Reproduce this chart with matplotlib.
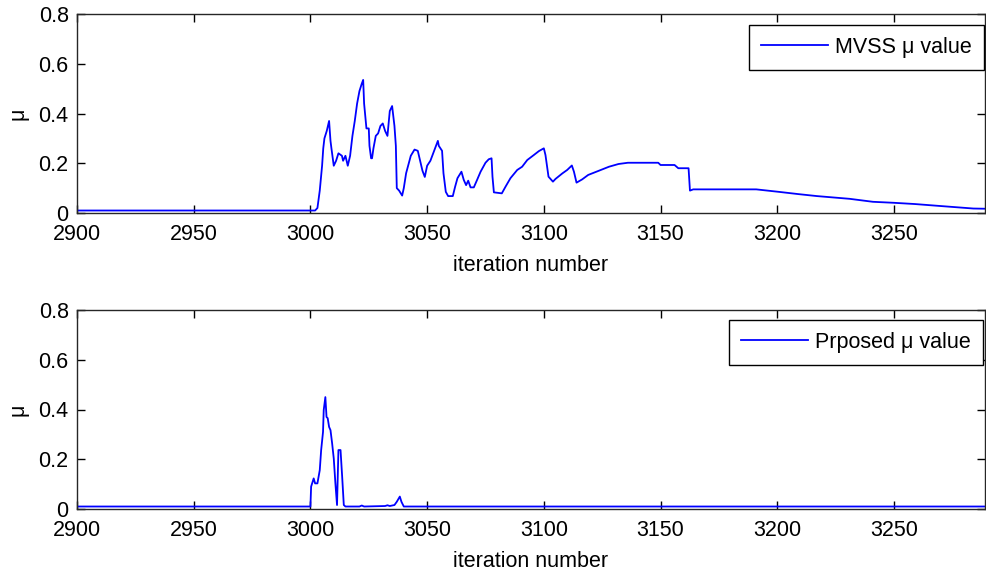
import matplotlib
matplotlib.use("Agg")
import matplotlib.pyplot as plt

plt.rcParams['font.family'] = ['Liberation Sans', 'DejaVu Sans']

# MVSS mu value (top panel)
mvss_iter = [2900, 3002, 3003, 3004, 3005, 3005.5, 3006, 3007, 3008, 3008.6, 3009, 3010, 3011, 3012,
             3013.5, 3014, 3015, 3016, 3017, 3018, 3019, 3020, 3021, 3022, 3022.6, 3023, 3024, 3025,
             3025.3, 3026, 3026.4, 3027, 3028, 3029, 3030, 3031, 3032, 3033, 3033.6, 3034, 3035,
             3036, 3036.6, 3037, 3038, 3039.3, 3040, 3041, 3043, 3044.6, 3046, 3047, 3048, 3049,
             3050, 3051.4, 3053, 3054.6, 3055, 3056.4, 3057, 3058, 3059, 3061, 3062, 3063, 3064.7,
             3065.7, 3066.7, 3067.6, 3068.6, 3070, 3071.4, 3072.9, 3075, 3076.4, 3077.6, 3078,
             3078.6, 3082, 3083.6, 3085.7, 3088.6, 3090.7, 3092.9, 3095.7, 3097.9, 3100, 3100.7,
             3102, 3103.9, 3105, 3107.9, 3110, 3112, 3112.9, 3114, 3116.4, 3119, 3123.6, 3127.9,
             3132, 3136, 3140.7, 3149, 3150, 3156, 3157.6, 3162, 3162.6, 3164, 3175, 3191, 3200.7,
             3209, 3217, 3231, 3241, 3250, 3259, 3270, 3284, 3290]
mvss_mu = [0.01, 0.01, 0.02, 0.09, 0.19, 0.26, 0.30, 0.33, 0.37, 0.29, 0.26, 0.19, 0.21, 0.24,
           0.23, 0.21, 0.23, 0.19, 0.23, 0.31, 0.37, 0.44, 0.49, 0.52, 0.535, 0.44, 0.34, 0.34,
           0.27, 0.22, 0.22, 0.26, 0.31, 0.32, 0.35, 0.36, 0.33, 0.31, 0.37, 0.41, 0.43,
           0.35, 0.27, 0.10, 0.09, 0.07, 0.10, 0.16, 0.23, 0.255, 0.25, 0.21, 0.17, 0.145,
           0.19, 0.21, 0.25, 0.29, 0.27, 0.25, 0.16, 0.085, 0.068, 0.068, 0.106, 0.14, 0.166,
           0.133, 0.112, 0.13, 0.103, 0.103, 0.133, 0.166, 0.202, 0.216, 0.22, 0.146,
           0.083, 0.079, 0.106, 0.14, 0.173, 0.186, 0.213, 0.233, 0.249, 0.26, 0.233,
           0.146, 0.126, 0.137, 0.159, 0.173, 0.191, 0.166, 0.122, 0.135, 0.153, 0.17, 0.186,
           0.197, 0.202, 0.202, 0.202, 0.193, 0.193, 0.18, 0.18, 0.09, 0.095, 0.095, 0.095, 0.085,
           0.076, 0.068, 0.057, 0.045, 0.041, 0.036, 0.028, 0.018, 0.017]

# Proposed mu value (bottom panel)
prop_iter = [2900, 3000, 3000.3, 3001.4, 3002, 3003, 3004, 3004.6, 3005.4, 3005.7, 3006.4, 3006.9,
             3007.4, 3008, 3008.6, 3009.3, 3010, 3010.7, 3011.4, 3012, 3012.9, 3013.6, 3014.3,
             3015, 3021, 3022, 3023, 3032, 3033, 3034, 3036, 3037, 3038.3, 3039, 3040, 3290]
prop_mu = [0.01, 0.01, 0.09, 0.123, 0.103, 0.103, 0.156, 0.237, 0.31, 0.398, 0.45, 0.37,
           0.365, 0.33, 0.317, 0.264, 0.203, 0.103, 0.016, 0.237, 0.237, 0.13, 0.016,
           0.01, 0.01, 0.014, 0.01, 0.012, 0.015, 0.012, 0.016, 0.029, 0.05, 0.029, 0.01, 0.01]

xticks = [2900, 2950, 3000, 3050, 3100, 3150, 3200, 3250]
yticks = [0, 0.2, 0.4, 0.6, 0.8]
ytick_labels = ['0', '0.2', '0.4', '0.6', '0.8']

fig = plt.figure(figsize=(9.86, 5.73), dpi=100)
left = 77 / 986
width = (985 - 77) / 986
h = 199 / 573
ax1 = fig.add_axes([left, 1 - 213 / 573, width, h])
ax2 = fig.add_axes([left, 1 - 509 / 573, width, h])

FS = 15.5
for ax, x, y, lab, ltop, lright in [(ax1, mvss_iter, mvss_mu, 'MVSS \u03bc value', 0.945, 0.9989),
                                    (ax2, prop_iter, prop_mu, 'Prposed \u03bc value', 0.95, 0.9978)]:
    ax.plot(x, y, color='#0000ff', linewidth=1.3, label=lab)
    ax.set_xlim(2900, 3289)
    ax.set_ylim(0, 0.8)
    ax.set_xticks(xticks)
    ax.set_yticks(yticks)
    ax.set_yticklabels(ytick_labels)
    ax.tick_params(direction='in', top=True, right=True, length=6, width=1,
                   labelsize=FS, colors='black')
    ax.tick_params(axis='x', pad=8)
    ax.tick_params(axis='y', pad=6)
    for s in ax.spines.values():
        s.set_linewidth(1)
        s.set_color('#262626')
    ax.set_xlabel('iteration number', fontsize=FS, labelpad=7)
    ax.set_ylabel('\u03bc', fontsize=FS, labelpad=7)
    leg = ax.legend(loc='upper right', bbox_to_anchor=(lright, ltop), borderaxespad=0,
                    fancybox=False, framealpha=1, edgecolor='black', fontsize=FS,
                    handlelength=3.1, handletextpad=0.35, borderpad=0.55)
    leg.get_frame().set_linewidth(1)

fig.savefig('out.png', dpi=100)
